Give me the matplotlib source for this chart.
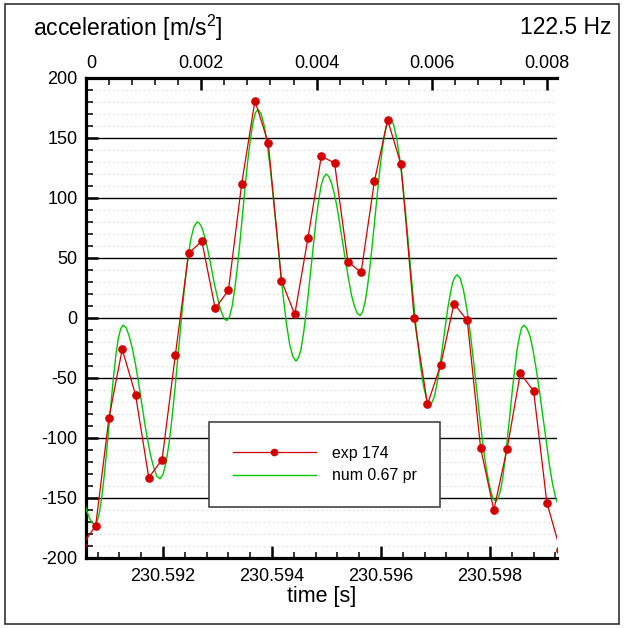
import matplotlib
matplotlib.use('Agg')
import matplotlib.pyplot as plt
from matplotlib.ticker import MultipleLocator, FuncFormatter
from matplotlib.lines import Line2D
from matplotlib.patches import Rectangle
import numpy as np

plt.rcParams['font.family'] = ['Liberation Sans', 'DejaVu Sans']
plt.rcParams['mathtext.fontset'] = 'custom'
plt.rcParams['mathtext.rm'] = 'Liberation Sans'
plt.rcParams['axes.unicode_minus'] = False

""" Datos leidos del grafico (tiempo como desfase en ms desde T0) """

T0 = 230.590  # s

exp_time_ms = [0.522, 0.765, 1.009, 1.252, 1.496, 1.739, 1.983, 2.226, 2.470,
               2.713, 2.957, 3.200, 3.444, 3.687, 3.931, 4.174, 4.418, 4.661,
               4.905, 5.148, 5.392, 5.635, 5.879, 6.122, 6.366, 6.609, 6.853,
               7.096, 7.340, 7.583, 7.827, 8.070, 8.314, 8.557, 8.801, 9.044,
               9.288]
exp_acc = [-189, -173, -83, -26, -64, -133, -118, -31, 54, 64, 8, 23, 112, 181,
           146, 31, 3, 67, 135, 129, 47, 38, 114, 165, 128, 0, -72, -39, 12,
           -2, -108, -160, -109, -46, -61, -154, -193]

num_time_ms = [
    0.220, 0.264, 0.309, 0.353, 0.397, 0.442, 0.486, 0.530, 0.575, 0.619, 0.663, 0.708,
    0.752, 0.795, 0.838, 0.880, 0.923, 0.966, 1.009, 1.052, 1.095, 1.137, 1.180, 1.223,
    1.266, 1.323, 1.379, 1.436, 1.492, 1.549, 1.606, 1.662, 1.719, 1.775, 1.832, 1.888,
    1.945, 2.002, 2.058, 2.115, 2.171, 2.228, 2.285, 2.341, 2.398, 2.454, 2.511, 2.567,
    2.624, 2.670, 2.716, 2.762, 2.807, 2.853, 2.899, 2.945, 2.991, 3.037, 3.082, 3.128,
    3.174, 3.221, 3.269, 3.316, 3.364, 3.411, 3.459, 3.506, 3.553, 3.601, 3.648, 3.696,
    3.743, 3.801, 3.859, 3.917, 3.975, 4.033, 4.092, 4.150, 4.208, 4.266, 4.324, 4.382,
    4.440, 4.486, 4.532, 4.578, 4.624, 4.670, 4.716, 4.761, 4.807, 4.853, 4.899, 4.945,
    4.991, 5.043, 5.095, 5.147, 5.199, 5.251, 5.303, 5.355, 5.407, 5.459, 5.511, 5.563,
    5.615, 5.661, 5.707, 5.752, 5.798, 5.844, 5.890, 5.936, 5.982, 6.028, 6.073, 6.119,
    6.165, 6.226, 6.287, 6.349, 6.410, 6.471, 6.532, 6.593, 6.654, 6.716, 6.777, 6.838,
    6.899, 6.940, 6.982, 7.023, 7.064, 7.106, 7.147, 7.188, 7.229, 7.271, 7.312, 7.354,
    7.395, 7.455, 7.514, 7.574, 7.634, 7.693, 7.753, 7.812, 7.872, 7.931, 7.991, 8.050,
    8.110, 8.153, 8.196, 8.238, 8.281, 8.324, 8.367, 8.410, 8.453, 8.495, 8.538, 8.581,
    8.624, 8.682, 8.740, 8.798, 8.856, 8.914, 8.973, 9.031, 9.089, 9.147, 9.205, 9.263,
    9.321]
num_acc = [
    -112, -113, -116, -121, -127, -134, -142, -150, -157, -163, -168, -171,
    -172, -169, -161, -148, -131, -111, -89, -68, -48, -30, -17, -9,
    -6, -8, -15, -25, -38, -53, -70, -87, -102, -115, -125, -132,
    -134, -130, -120, -103, -81, -55, -27, 1, 27, 49, 66, 76,
    80, 79, 75, 68, 60, 50, 39, 28, 19, 10, 4, -1,
    -2, 1, 10, 24, 42, 63, 86, 109, 130, 148, 162, 171,
    174, 170, 160, 143, 122, 96, 69, 42, 17, -5, -22, -32,
    -36, -33, -26, -13, 3, 22, 42, 62, 81, 97, 110, 117,
    120, 118, 112, 103, 91, 76, 61, 46, 32, 19, 10, 4,
    2, 5, 13, 26, 43, 63, 84, 105, 125, 142, 155, 163,
    166, 162, 150, 131, 107, 78, 47, 16, -13, -37, -56, -68,
    -72, -70, -65, -56, -45, -32, -18, -4, 9, 20, 29, 34,
    36, 33, 23, 8, -11, -34, -59, -83, -106, -125, -140, -150,
    -153, -150, -143, -132, -116, -98, -80, -60, -43, -27, -16, -8,
    -6, -9, -16, -29, -45, -63, -83, -103, -122, -138, -150, -157,
    -160]

y_ticks = [-200, -150, -100, -50, 0, 50, 100, 150, 200]
bottom_ticks = [230.592, 230.594, 230.596, 230.598]
top_ticks = [0, 0.002, 0.004, 0.006, 0.008]
top_labels = ['0', '0.002', '0.004', '0.006', '0.008']
series_labels = ['exp 174', 'num 0.67 pr']

red = '#d40000'
green = '#00c800'

t_exp = T0 + np.array(exp_time_ms) / 1000.0
t_num = T0 + np.array(num_time_ms) / 1000.0

fig = plt.figure(figsize=(6.24, 6.28), dpi=100)
ax = fig.add_axes([86/624, 70/628, 471/624, 480/628])

ax.plot(t_num, num_acc, color=green, lw=1.0, zorder=3)
ax.plot(t_exp, exp_acc, color=red, lw=0.9, marker='o', ms=5.2, zorder=4)

ax.set_xlim(T0 + 0.5871/1000, T0 + 9.2295/1000)
ax.set_ylim(-200, 200)

ax.set_yticks(y_ticks)
ax.yaxis.set_minor_locator(MultipleLocator(10))
ax.set_xticks(bottom_ticks)
ax.xaxis.set_minor_locator(MultipleLocator(0.0004))
ax.xaxis.set_major_formatter(FuncFormatter(lambda v, p: f'{v:.3f}'))

ax.set_axisbelow(True)
ax.grid(axis='y', which='major', color='black', lw=1.0)
ax.grid(axis='y', which='minor', color='#d0d0d0', ls=(0, (1, 3)), lw=0.8)

ax.spines['right'].set_visible(False)
for s in ['left', 'bottom', 'top']:
    ax.spines[s].set_linewidth(2.3)

ax.tick_params(axis='both', which='major', direction='in', length=8.5,
               width=1.8, labelsize=13)
ax.tick_params(axis='y', which='minor', direction='in', length=5, width=1.1)
ax.tick_params(axis='x', which='minor', direction='in', length=4, width=1.1)
ax.tick_params(axis='y', which='both', right=False, pad=6)
ax.tick_params(axis='x', which='both', top=False, pad=7)

ax.set_xlabel('time [s]', fontsize=15.5, labelpad=1)

# eje superior
ax2 = ax.twiny()
ax2.set_xlim(0, 0.00817)
ax2.set_xticks(top_ticks)
ax2.set_xticklabels(top_labels)
ax2.xaxis.set_minor_locator(MultipleLocator(0.0004))
for s in ax2.spines.values():
    s.set_visible(False)
ax2.tick_params(axis='x', which='major', direction='in', length=8.5, width=1.8,
                labelsize=13, pad=4)
ax2.tick_params(axis='x', which='minor', direction='in', length=5, width=1.1)
ax2.get_xticklabels()[0].set_ha('left')

handles = [Line2D([], [], color=red, lw=0.9, marker='o', ms=4.5),
           Line2D([], [], color=green, lw=1.0)]
leg = ax.legend(handles, series_labels, loc='upper left',
                bbox_to_anchor=(0.261, 0.283), borderaxespad=0, fontsize=11.4,
                handlelength=5.25, handletextpad=1.0, labelspacing=0.46,
                borderpad=1.5, fancybox=False, framealpha=1,
                edgecolor='#444444')
leg.get_frame().set_linewidth(1.2)
leg.set_zorder(10)

fig.text(33/624, 1 - 28/628, 'acceleration [m/s$^2$]', fontsize=16.5,
         ha='left', va='center')
fig.text(611/624, 1 - 28/628, '122.5 Hz', fontsize=16.5, ha='right',
         va='center')

fig.patches.append(Rectangle((5/624, 4/628), 614/624, 620/628,
                             transform=fig.transFigure, fill=False,
                             edgecolor='#333333', lw=1.2))

fig.savefig('out.png', dpi=100)
